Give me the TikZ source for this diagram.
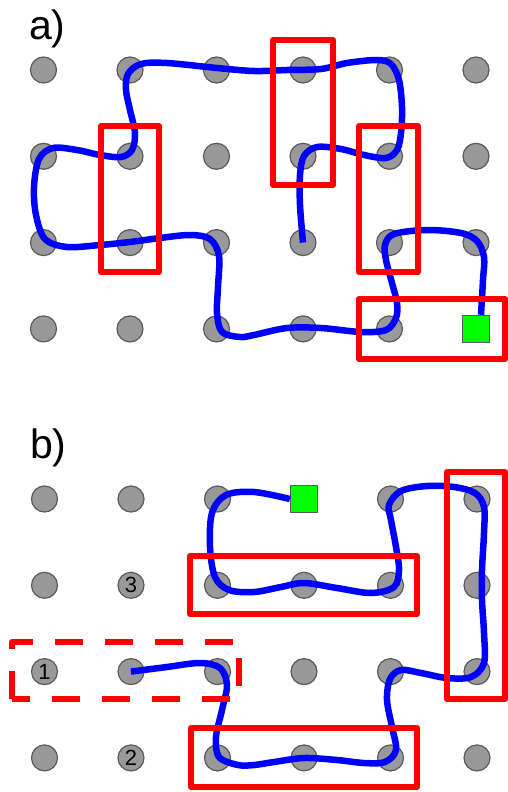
\documentclass[tikz,border=0pt]{standalone}
\usepackage{fontspec}
\setmainfont{Liberation Sans}
\definecolor{peggray}{HTML}{999999}
\definecolor{pegedge}{HTML}{5A5A5A}
\definecolor{pathblue}{HTML}{0000FF}
\definecolor{boxred}{HTML}{FF0000}
\definecolor{goalgreen}{HTML}{00FF00}
\begin{document}
\begin{tikzpicture}[x=1pt,y=-1pt,
  peg/.style={circle, draw=pegedge, fill=peggray, line width=1.2pt,
    minimum size=26pt, inner sep=0pt, font=\fontsize{22}{22}\selectfont},
  goal/.style={rectangle, draw=pegedge, fill=goalgreen, line width=1.2pt,
    minimum size=27pt, inner sep=0pt},
  walk/.style={draw=pathblue, line width=6.5pt},
  redbox/.style={draw=boxred, line width=6pt, line join=round},
  panel/.style={font=\fontsize{41}{48}\selectfont, anchor=base west, inner sep=0pt}]
\useasboundingbox (0,0) rectangle (508,792);

% panel labels
\node[panel] (la) at (29,40) {a)};
\node[panel] (lb) at (30,458) {b)};

% peg grids
\foreach \c in {0,...,5}{
  \foreach \r in {0,...,3}{
    \pgfmathtruncatemacro\code{10*\c+\r}
    \ifnum\code=53 \else
      \node[peg] (a-\c-\r) at ({43.5+86.5*\c},{70+86.3*\r}) {};
    \fi
    \ifnum\code=30 \else\ifnum\code=2 \else\ifnum\code=11 \else\ifnum\code=13 \else
      \node[peg] (b-\c-\r) at ({44.5+86.5*\c},{499+86.3*\r}) {};
    \fi\fi\fi\fi
  }
}
\node[peg] (b-0-2) at ({44.5},{499+86.3*2}) {1};
\node[peg] (b-1-1) at ({44.5+86.5},{499+86.3}) {3};
\node[peg] (b-1-3) at ({44.5+86.5},{499+86.3*3}) {2};

% targets
\node[goal] (ga) at ({43.5+86.5*5},{70+86.3*3}) {};
\node[goal] (gb) at ({44.5+86.5*3},{499}) {};

% walk in panel a
\draw[walk] plot[smooth, tension=0.55] coordinates {
  (a-3-2.center) (300,205) (300,175) (304,156) (317,147) (341,149) (364,155)
  (386,158) (397,150) (401,133) (402,107) (399,80) (391,64) (377,60)
  (347,63) (321,69) (287,70) (254,71) (217,68) (167,63) (141,64) (128,74)
  (126,90) (130,110) (135,133) (132,150) (121,157) (100,155) (77,150)
  (53,148) (39,159) (34,187) (36,215) (45,239) (67,247) (100,245)
  (130,242) (160,238) (190,235) (210,239) (219,256) (218,287) (217,313)
  (222,332) (240,337) (254,335) (287,328) (321,328) (361,332) (386,330)
  (396,318) (397,303) (392,283) (386,260) (385,245) (394,234) (427,230)
  (461,233) (477,241) (484,257) (483,280) ([xshift=5pt]ga.north)};

% walk in panel b
\draw[walk] plot[smooth, tension=0.55] coordinates {
  (b-1-2.center) (167,667) (200,663) (220,668) (227,685) (222,710) (216,737)
  (219,757) (238,765) (254,765) (274,762) (304,758) (337,760) (364,763)
  (385,762) (396,750) (392,727) (387,700) (390,679) (401,670) (421,673)
  (447,678) (471,677) (484,663) (484,633) (482,600) (482,570) (484,533)
  (484,507) (475,493) (454,487) (427,486) (401,491) (389,505) (391,520)
  (396,547) (399,570) (394,587) (371,593) (337,588) (304,583) (281,587)
  (254,592) (229,590) (215,577) (210,547) (212,513) (226,495) (254,492)
  (gb.west)};

% groupings in panel a
\draw[redbox] (101,126) rectangle (159,272);
\draw[redbox] (273,40) rectangle (333,185);
\draw[redbox] (359,126) rectangle (418,272);
\draw[redbox] (359,299) rectangle (505,359);

% groupings in panel b
\draw[redbox] (190,556) rectangle (417,614);
\draw[redbox] (447,472) rectangle (505,699);
\draw[redbox] (191,728) rectangle (417,787);
\draw[redbox, dash pattern=on 28pt off 22pt]
  (12,699) -- (12,642) -- (239,642) -- (239,699) -- cycle;
\end{tikzpicture}
\end{document}
